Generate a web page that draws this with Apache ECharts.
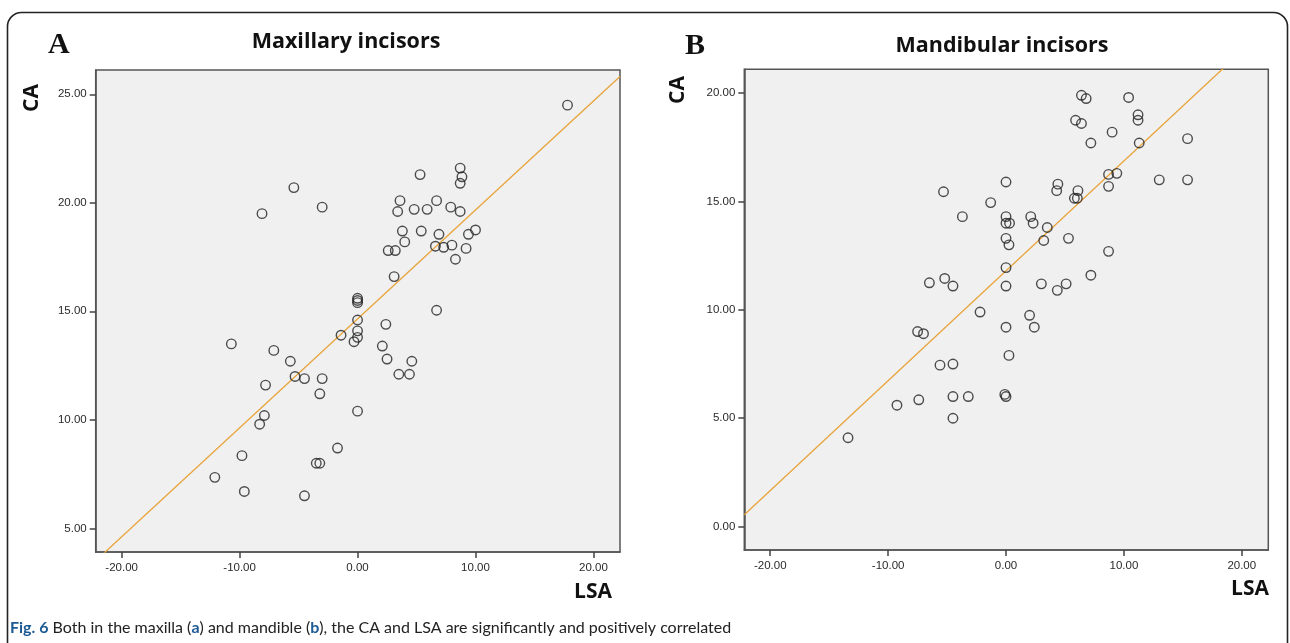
<!DOCTYPE html>
<html>
<head>
<meta charset="utf-8">
<script src="https://cdn.jsdelivr.net/npm/echarts@6/dist/echarts.min.js"></script>
<style>
html,body{margin:0;padding:0;background:#fff;}
#c{width:1290px;height:643px;}
</style>
</head>
<body>
<div id="c"></div>
<script>
// ---- Data ----
const panelTitles = ['Maxillary incisors', 'Mandibular incisors'];
const panelLetters = ['A', 'B'];
const xTickValues = [-20, -10, 0, 10, 20];
const yTickValuesA = [5, 10, 15, 20, 25];
const yTickValuesB = [0, 5, 10, 15, 20];

// Panel A: [LSA, CA]
const maxillaPoints = [
  [17.8, 24.5], [-5.4, 20.7], [-8.1, 19.5], [-3.0, 19.8], [5.3, 21.3],
  [8.7, 21.6], [8.85, 21.2], [8.7, 20.9], [3.6, 20.1], [3.4, 19.6],
  [4.8, 19.7], [5.9, 19.7], [6.7, 20.1], [7.9, 19.8], [8.7, 19.6],
  [3.8, 18.7], [5.4, 18.7], [6.9, 18.55], [4.0, 18.2], [2.6, 17.8],
  [3.2, 17.8], [6.6, 18.0], [7.3, 17.95], [8.0, 18.05], [9.4, 18.55],
  [10.0, 18.75], [9.2, 17.9], [8.3, 17.4], [3.1, 16.6], [0, 15.4],
  [0, 15.5], [0, 15.6], [6.7, 15.05], [0, 14.6], [2.4, 14.4],
  [-1.4, 13.9], [0, 14.1], [0, 13.8], [-0.3, 13.6], [2.1, 13.4],
  [2.5, 12.8], [4.6, 12.7], [3.5, 12.1], [4.4, 12.1], [0, 10.4],
  [-10.7, 13.5], [-7.1, 13.2], [-5.7, 12.7], [-5.3, 12.0], [-4.5, 11.9],
  [-3.0, 11.9], [-3.2, 11.2], [-7.8, 11.6], [-7.9, 10.2], [-8.3, 9.8],
  [-9.8, 8.35], [-12.1, 7.35], [-9.6, 6.7], [-4.5, 6.5], [-1.7, 8.7],
  [-3.5, 8.0], [-3.2, 8.0]
];

// Panel B: [LSA, CA]
const mandiblePoints = [
  [-5.3, 15.45], [-1.3, 14.95], [-3.7, 14.3], [-6.5, 11.25], [-5.2, 11.45],
  [-4.5, 11.1], [-2.2, 9.9], [6.4, 19.9], [6.8, 19.75], [10.4, 19.8],
  [11.2, 19.0], [11.2, 18.75], [5.9, 18.75], [6.4, 18.6], [9.0, 18.2],
  [7.2, 17.7], [11.3, 17.7], [15.4, 17.9], [0, 15.9], [8.7, 16.25],
  [9.4, 16.3], [8.7, 15.7], [13.0, 16.0], [15.4, 16.0], [4.4, 15.8],
  [4.3, 15.5], [6.1, 15.5], [5.8, 15.15], [6.05, 15.15], [0, 14.3],
  [0, 14.0], [0.3, 14.0], [2.1, 14.3], [2.3, 14.0], [3.5, 13.8],
  [3.2, 13.2], [5.3, 13.3], [0, 13.3], [0.25, 13.0], [8.7, 12.7],
  [0, 11.95], [7.2, 11.6], [0, 11.1], [3.0, 11.2], [5.1, 11.2],
  [4.35, 10.9], [2.0, 9.75], [0, 9.2], [2.4, 9.2], [0.25, 7.9],
  [-0.1, 6.1], [0, 6.0], [-7.5, 9.0], [-7.0, 8.9], [-5.6, 7.45],
  [-4.5, 7.5], [-7.4, 5.85], [-9.25, 5.6], [-4.5, 6.0], [-3.2, 6.0],
  [-4.5, 5.0], [-13.4, 4.1]
];

// Linear fit lines: [intercept, slope]
const fitA = [14.65, 0.502];
const fitB = [11.8, 0.507];

const xRange = [-22.2, 22.25];
const yRangeA = [3.91, 26.12];
const yRangeB = [-1.08, 21.1];

function fitLine(fit) {
  return [xRange[0], xRange[1]].map(x => [x, fit[0] + fit[1] * x]);
}

const chart = echarts.init(document.getElementById('c'), null, {renderer: 'canvas'});

const tickFmt = v => v.toFixed(2);
const axisFont = {fontFamily: 'Liberation Sans, Arial, sans-serif', fontSize: 11.5, color: '#2a2a2a'};

function xAxis(gi) {
  return {
    type: 'value', gridIndex: gi, min: xRange[0], max: xRange[1], position: 'bottom',
    splitLine: {show: false},
    axisLine: {show: true, onZero: false, lineStyle: {color: '#555', width: 1.5}},
    axisTick: {show: true, customValues: xTickValues, length: 6, lineStyle: {color: '#444', width: 1.5}},
    axisLabel: Object.assign({customValues: xTickValues, formatter: tickFmt, margin: 10}, axisFont)
  };
}
function yAxis(gi, range, ticks) {
  return {
    type: 'value', gridIndex: gi, min: range[0], max: range[1], position: 'left',
    splitLine: {show: false},
    axisLine: {show: true, onZero: false, lineStyle: {color: '#555', width: 1.5}},
    axisTick: {show: true, customValues: ticks, length: 6, lineStyle: {color: '#444', width: 1.5}},
    axisLabel: Object.assign({customValues: ticks, formatter: tickFmt, margin: 9}, axisFont)
  };
}

const scatterStyle = {
  type: 'scatter', symbol: 'circle', symbolSize: 9.5,
  itemStyle: {color: 'rgba(0,0,0,0)', borderColor: '#222', borderWidth: 1.4},
  emphasis: {disabled: true}, z: 3
};
const lineStyle = {
  type: 'line', showSymbol: false, symbol: 'none', clip: true,
  lineStyle: {color: '#e8a33a', width: 1.3}, emphasis: {disabled: true}, z: 2
};

const titleFont = '"Open Sans", "Noto Sans", sans-serif';
const capFont = 'Lato, "Noto Sans", sans-serif';

chart.setOption({
  animation: false,
  backgroundColor: '#fff',
  grid: [
    {left: 95.7, top: 70, width: 524.3, height: 482, show: true, backgroundColor: '#f0f0f0', borderColor: '#555', borderWidth: 1.5},
    {left: 744.3, top: 69.3, width: 524, height: 480.7, show: true, backgroundColor: '#f0f0f0', borderColor: '#555', borderWidth: 1.5}
  ],
  xAxis: [xAxis(0), xAxis(1)],
  yAxis: [yAxis(0, yRangeA, yTickValuesA), yAxis(1, yRangeB, yTickValuesB)],
  series: [
    Object.assign({}, lineStyle, {xAxisIndex: 0, yAxisIndex: 0, data: fitLine(fitA)}),
    Object.assign({}, scatterStyle, {xAxisIndex: 0, yAxisIndex: 0, data: maxillaPoints}),
    Object.assign({}, lineStyle, {xAxisIndex: 1, yAxisIndex: 1, data: fitLine(fitB)}),
    Object.assign({}, scatterStyle, {xAxisIndex: 1, yAxisIndex: 1, data: mandiblePoints})
  ],
  graphic: [
    {type: 'rect', shape: {x: 7.5, y: 12.5, width: 1280, height: 700, r: 14}, style: {fill: 'none', stroke: '#222', lineWidth: 1.6}, silent: true, z: 0},
    {type: 'text', left: 48, top: 30, style: {text: panelLetters[0], font: 'bold 30px "Liberation Serif", "DejaVu Serif", serif', fill: '#111'}},
    {type: 'text', left: 685, top: 31, style: {text: panelLetters[1], font: 'bold 30px "Liberation Serif", "DejaVu Serif", serif', fill: '#111'}},
    {type: 'text', x: 346, y: 42, style: {text: panelTitles[0], font: 'bold 21.5px ' + titleFont, fill: '#111', align: 'center', verticalAlign: 'middle'}},
    {type: 'text', x: 1002, y: 46, style: {text: panelTitles[1], font: 'bold 21.5px ' + titleFont, fill: '#111', align: 'center', verticalAlign: 'middle'}},
    {type: 'text', x: 32, y: 98, rotation: Math.PI / 2, style: {text: 'CA', font: 'bold 21px ' + titleFont, fill: '#111', align: 'center', verticalAlign: 'middle'}},
    {type: 'text', x: 678, y: 90, rotation: Math.PI / 2, style: {text: 'CA', font: 'bold 21px ' + titleFont, fill: '#111', align: 'center', verticalAlign: 'middle'}},
    {type: 'text', x: 593, y: 592, style: {text: 'LSA', font: 'bold 21px ' + titleFont, fill: '#111', align: 'center', verticalAlign: 'middle'}},
    {type: 'text', x: 1250, y: 589, style: {text: 'LSA', font: 'bold 21px ' + titleFont, fill: '#111', align: 'center', verticalAlign: 'middle'}},
    {type: 'text', x: 10, y: 628, style: {
      text: '{b|Fig. 6} Both in the maxilla ({b|a}) and mandible ({b|b}), the CA and LSA are significantly and positively correlated',
      font: '16px ' + capFont, fill: '#222', verticalAlign: 'middle',
      rich: {b: {font: 'bold 16px ' + capFont, fill: '#1d5a93'}}
    }}
  ]
});
</script>
</body>
</html>
